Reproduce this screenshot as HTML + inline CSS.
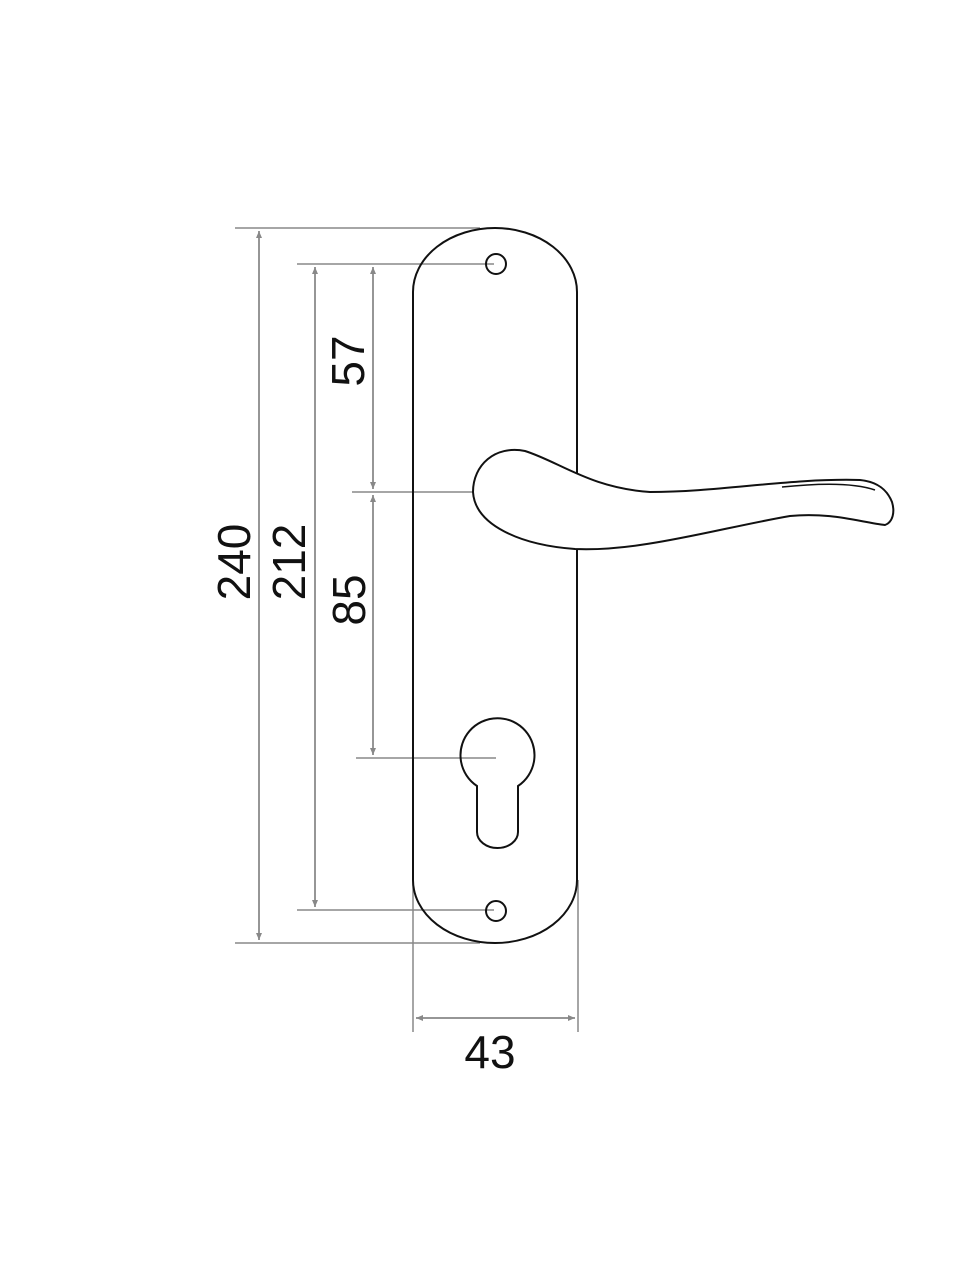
<!DOCTYPE html>
<html><head><style>html,body{margin:0;padding:0;background:#fff}svg{display:block}</style></head>
<body>
<svg width="960" height="1280" viewBox="0 0 960 1280" xmlns="http://www.w3.org/2000/svg">
<defs>
<marker id="a" markerWidth="8" markerHeight="8" refX="7" refY="3" orient="auto" markerUnits="userSpaceOnUse">
<path d="M0,0 L7,3 L0,6 Z" fill="#888"/>
</marker>
</defs>
<g stroke="#888" stroke-width="1.5" fill="none">
<line x1="235" y1="228" x2="480" y2="228"/>
<line x1="235" y1="943" x2="480" y2="943"/>
<line x1="297" y1="264" x2="494" y2="264"/>
<line x1="297" y1="910" x2="494" y2="910"/>
<line x1="352" y1="492" x2="475" y2="492"/>
<line x1="356" y1="758" x2="496" y2="758"/>
<line x1="413" y1="880" x2="413" y2="1032"/>
<line x1="578" y1="880" x2="578" y2="1032"/>
<line x1="259" y1="940" x2="259" y2="231" marker-end="url(#a)"/>
<line x1="259" y1="231" x2="259" y2="940" marker-end="url(#a)"/>
<line x1="315" y1="907" x2="315" y2="267" marker-end="url(#a)"/>
<line x1="315" y1="267" x2="315" y2="907" marker-end="url(#a)"/>
<line x1="373" y1="489" x2="373" y2="267" marker-end="url(#a)"/>
<line x1="373" y1="267" x2="373" y2="489" marker-end="url(#a)"/>
<line x1="373" y1="755" x2="373" y2="495" marker-end="url(#a)"/>
<line x1="373" y1="495" x2="373" y2="755" marker-end="url(#a)"/>
<line x1="416" y1="1018" x2="575" y2="1018" marker-end="url(#a)"/>
<line x1="575" y1="1018" x2="416" y2="1018" marker-end="url(#a)"/>
</g>
<g stroke="#111" stroke-width="2" fill="none">
<path d="M413,292 A82,64 0 0 1 577,292 L577,880 A82,63 0 0 1 413,880 Z"/>
<circle cx="496" cy="264" r="10"/>
<circle cx="496" cy="911" r="10"/>
<path d="M477,786 A37,37 0 1 1 518,786 L518,832 A20.5,16 0 0 1 477,832 Z"/>
<path d="M473,492 C473,465 495,445 525,451 C560,462 590,488 650,492 C720,492 790,478 860,480 C880,482 888,492 892,502 C895,512 893,522 885,525 C860,522 830,512 790,516 C720,528 640,552 575,549 C520,545 475,525 473,492 Z" fill="#fff"/>
<path d="M782,487 C820,483 855,483 875,490" stroke-width="1.5"/>
</g>
<g font-family="Liberation Sans, sans-serif" font-size="46" fill="#111" text-anchor="middle">
<text transform="translate(250,562) rotate(-90)">240</text>
<text transform="translate(305,562) rotate(-90)">212</text>
<text transform="translate(364,361) rotate(-90)">57</text>
<text transform="translate(365,600) rotate(-90)">85</text>
<text x="490" y="1068">43</text>
</g>
</svg>
</body></html>
